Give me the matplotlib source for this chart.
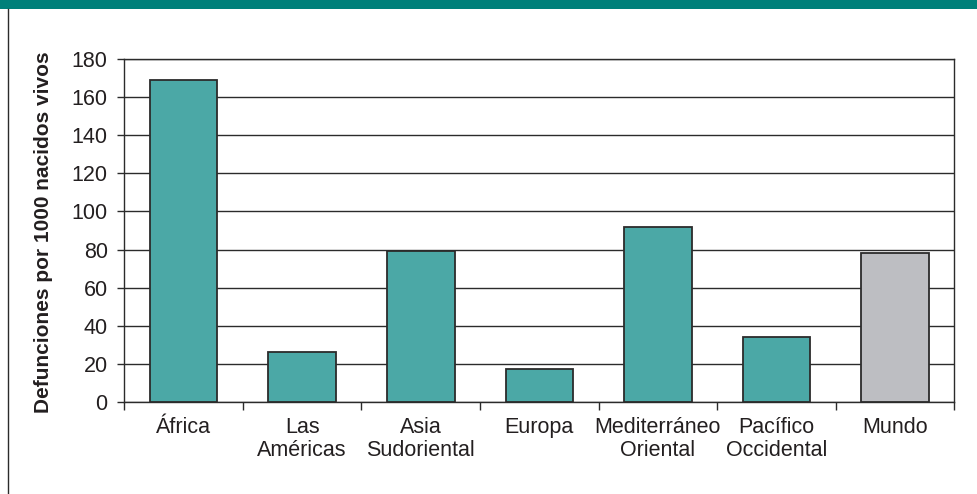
import matplotlib.pyplot as plt
from matplotlib.patches import Rectangle
from matplotlib.lines import Line2D

plt.rcParams['font.family'] = ['Liberation Sans', 'DejaVu Sans']

REGIONS = ['África', 'Las\nAméricas', 'Asia\nSudoriental', 'Europa',
           'Mediterráneo\nOriental', 'Pacífico\nOccidental', 'Mundo']
MORTALITY = [169, 26, 79, 17, 92, 34, 78]
BAR_COLORS = ['#4BA8A6'] * 6 + ['#BDBEC2']
Y_TICKS = list(range(0, 181, 20))
Y_LABEL = 'Defunciones por 1000 nacidos vivos'

TEXT = '#231F20'
LINE = '#2B2B2B'

fig = plt.figure(figsize=(9.78, 4.94), dpi=100)
fig.patch.set_facecolor('white')

# banner strip at the top and the left frame line
fig.patches.append(Rectangle((0, 1 - 9.5 / 494), 1, 9.5 / 494, transform=fig.transFigure,
                             facecolor='#00807A', edgecolor='none', zorder=0))
fig.lines.append(Line2D([8.3 / 978, 8.3 / 978], [0, 1 - 9.5 / 494], transform=fig.transFigure,
                        color=LINE, linewidth=1.0))

ax = fig.add_axes([124.3 / 978, 92.3 / 494, 830 / 978, 342.4 / 494])
x = range(len(REGIONS))
ax.bar(x, MORTALITY, width=0.57, color=BAR_COLORS, edgecolor=LINE, linewidth=1.3, zorder=3)

ax.set_xlim(-0.5, len(REGIONS) - 0.5)
ax.set_ylim(0, 180)
ax.set_yticks(Y_TICKS)
ax.yaxis.grid(True, color=LINE, linewidth=1.0, zorder=0)
ax.set_axisbelow(True)

ax.set_xticks(list(x))
ax.set_xticklabels(REGIONS, fontsize=15.5, color=TEXT, linespacing=1.12, va='top')
ax.set_xticks([i - 0.5 for i in range(len(REGIONS) + 1)], minor=True)
ax.tick_params(axis='x', which='major', length=0, pad=11)
ax.tick_params(axis='x', which='minor', length=6, width=1.0, color=LINE, direction='out')
ax.tick_params(axis='y', labelsize=15.5, labelcolor=TEXT, length=5, width=1.0,
               color=LINE, direction='out', pad=7)

for side in ['left', 'right', 'bottom', 'top']:
    ax.spines[side].set_color(LINE)
    ax.spines[side].set_linewidth(1.0)

fig.text(44 / 978, 1 - 232.5 / 494, Y_LABEL, rotation=90, ha='center', va='center',
         fontsize=15, fontweight='bold', color=TEXT)

fig.savefig('out.png', dpi=100)
